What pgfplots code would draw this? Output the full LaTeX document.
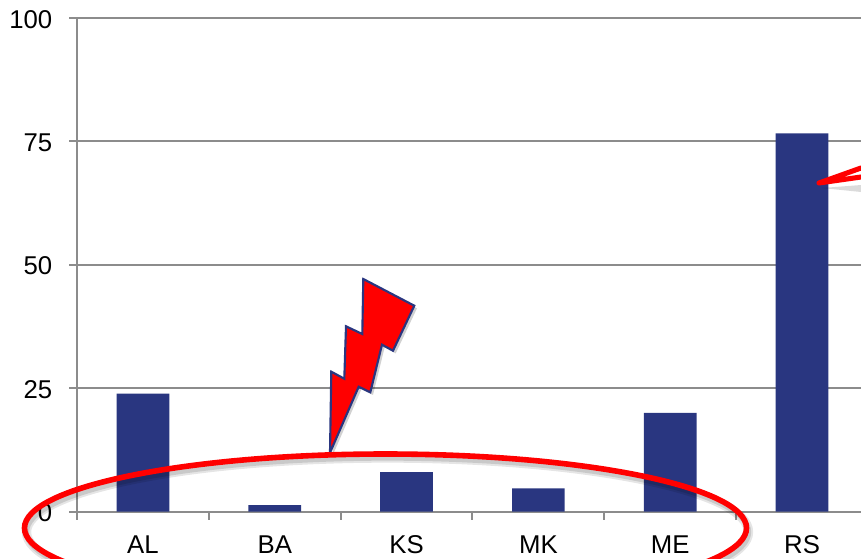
\documentclass[border=0pt]{standalone}
\usepackage{fontspec}
\setmainfont{Liberation Sans}
\usepackage{pgfplots}
\pgfplotsset{compat=1.18}
\definecolor{barblue}{RGB}{41,54,128}
\definecolor{axisgray}{RGB}{140,140,140}
\definecolor{boltedge}{RGB}{41,54,128}

\begin{document}
\begin{tikzpicture}[x=0.75pt,y=-0.75pt]
    \path[use as bounding box,clip] (0,0) rectangle (861,558);
    % pixel positions: x=77 left edge, y=511.5 zero line, 1 px = 0.75pt
    \begin{axis}[
        at={(57.75pt,-383.625pt)},
        anchor=south west,
        scale only axis,
        width=593.25pt,
        height=370.125pt,
        xmin=-0.5, xmax=5.5,
        ymin=0, ymax=100,
        axis x line=bottom,
        axis y line=left,
        axis line style={axisgray,line width=1.5pt,-},
        ytick={0,25,50,75,100},
        xtick={0,1,2,3,4,5},
        xticklabels={AL,BA,KS,MK,ME,RS},
        minor xtick={-0.5,0.5,1.5,2.5,3.5,4.5,5.5},
        ymajorgrids,
        grid style={axisgray,line width=1.5pt},
        tick align=outside,
        x tick style={draw=none},
        y tick style={axisgray,line width=1.5pt},
        minor x tick style={draw=axisgray,line width=1.5pt},
        major tick length=6pt,
        minor tick length=6pt,
        tick label style={font=\fontsize{19.3}{21}\selectfont,text=black},
        xticklabel style={yshift=-8pt,text height=14pt,text depth=0pt},
        yticklabel style={xshift=-9pt,yshift=-1pt},
        /pgf/number format/assume math mode=true,
        clip=false
    ]
    \addplot[ybar,bar width=39.5pt,fill=barblue,draw=none] coordinates {
        (0,23.9)
        (1,1.3)
        (2,8)
        (3,4.7)
        (4,20)
        (5,76.6)
    };
    \end{axis}
    % lightning bolt
    \fill[black,opacity=0.18] ([xshift=2pt,yshift=-2pt]330,452.7) -- ++(1.3,-81) -- ++(13,7) -- ++(1.7,-52.4) -- ++(16.3,7.7) -- ++(1,-55) -- ++(51,26.7) -- ++(-21.3,45) -- ++(-11,-6) -- ++(-11.7,47.6) -- ++(-11.6,-5.6) -- cycle;
    \draw[boltedge,line width=1.6pt,fill=red,line join=miter] (330,452.7) -- (331.3,371.7) -- (344.3,378.7) -- (346,326.3) -- (362.3,334) -- (363.3,279) -- (414.3,305.7) -- (393,350.7) -- (382,344.7) -- (370.3,392.3) -- (358.7,386.7) -- cycle;
    % ellipse with soft shadow
    \draw[black,opacity=0.10,line width=7pt] (387.5,532) ellipse [x radius=361,y radius=74];
    \draw[black,opacity=0.12,line width=4pt] (387.5,532) ellipse [x radius=361,y radius=74];
    \draw[red,line width=4.2pt] (385.5,528) ellipse [x radius=361,y radius=74];
    % callout wedge on the RS bar
    \fill[black,opacity=0.14] (822,188) -- (861,185) -- (861,192) -- cycle;
    \draw[red,line width=3.8pt,line join=round,line cap=round,fill=white] (861,168) -- (819,183) -- (861,177);
\end{tikzpicture}
\end{document}
